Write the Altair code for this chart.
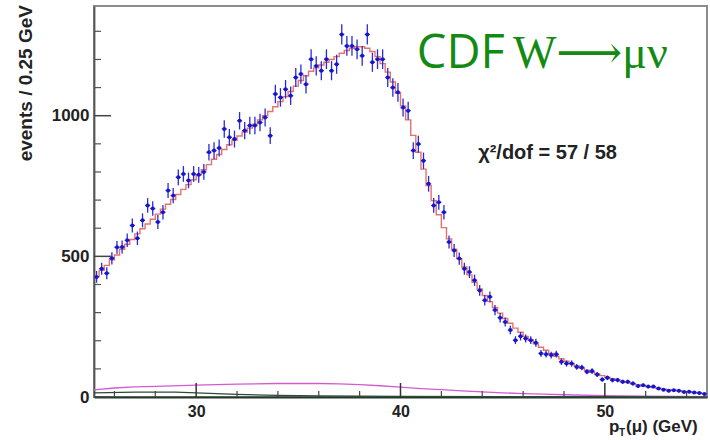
import altair as alt
import pandas as pd

# ---- data ----
bin_width = 0.25
x_start = 25.0

counts = [427, 456, 440, 493, 532, 533, 557, 610, 564, 628,
          681, 670, 622, 657, 734, 716, 781, 793, 770, 793,
          790, 800, 870, 876, 885, 953, 923, 917, 982, 947,
          965, 965, 976, 994, 929, 1077, 1065, 1094, 1071, 1136,
          1148, 1112, 1201, 1177, 1160, 1201, 1160, 1183, 1289, 1248,
          1248, 1236, 1213, 1289, 1190, 1201, 1201, 1136, 1100, 1083,
          1029, 1018, 876, 899, 840, 758, 681, 692, 657, 551,
          521, 492, 456, 444, 415, 379, 344, 356, 309, 282,
          267, 238, 202, 216, 208, 202, 193, 155, 152, 149,
          152, 125, 119, 119, 107, 105, 90, 92, 80, 62,
          68, 60, 60, 54, 54, 48, 39, 42, 37, 37,
          30, 26, 22, 24, 22, 18, 19, 16, 14, 11]

errors = [21, 21, 21, 22, 23, 23, 24, 25, 24, 25,
          26, 26, 25, 26, 27, 27, 28, 28, 28, 28,
          28, 28, 29, 30, 30, 31, 30, 30, 31, 31,
          31, 31, 31, 32, 30, 33, 33, 33, 33, 34,
          34, 33, 35, 34, 34, 35, 34, 34, 36, 35,
          35, 35, 35, 36, 34, 35, 35, 34, 33, 33,
          32, 32, 30, 30, 29, 28, 26, 26, 26, 23,
          23, 22, 21, 21, 20, 19, 19, 19, 18, 17,
          16, 15, 14, 15, 14, 14, 14, 12, 12, 12,
          12, 11, 11, 11, 10, 10, 9, 10, 9, 8,
          8, 8, 8, 7, 7, 7, 6, 6, 6, 6,
          5, 5, 5, 5, 5, 4, 4, 4, 4, 3]

model = [428, 450, 468, 488, 505, 525, 543, 560, 580, 598,
         615, 632, 650, 668, 685, 702, 720, 738, 755, 772,
         790, 808, 826, 845, 862, 880, 897, 913, 928, 942,
         956, 970, 985, 1000, 1015, 1032, 1050, 1068, 1086, 1105,
         1125, 1142, 1158, 1170, 1180, 1190, 1200, 1210, 1222, 1232,
         1240, 1245, 1245, 1240, 1228, 1210, 1185, 1155, 1120, 1080,
         1035, 985, 930, 870, 810, 752, 698, 648, 602, 562,
         525, 492, 462, 434, 408, 384, 361, 339, 318, 298,
         279, 262, 245, 230, 215, 202, 189, 177, 166, 155,
         145, 136, 127, 118, 110, 102, 95, 88, 82, 76,
         70, 65, 60, 55, 51, 47, 43, 40, 37, 34,
         31, 28, 26, 24, 22, 20, 18, 16, 14, 12]

mag_x = [25, 26, 27, 28, 30, 32, 34, 36, 37, 38, 39, 40, 41, 42, 43, 44, 45, 46, 47, 48, 50, 52, 55]
mag_y = [25, 32, 36, 38, 42, 46, 48, 48, 47, 44, 40, 35, 30, 26, 22, 18, 15, 12, 10, 8, 5, 3, 1]

bkg_x = [25, 27, 29, 30, 31, 32, 34, 36, 38, 40, 45, 55]
bkg_y = [15, 17, 17, 15, 12, 9, 6, 4, 3, 2, 1, 0]

x_tick_labels = [30, 40, 50]
x_minor = [26, 28, 32, 34, 36, 38, 42, 44, 46, 48, 52, 54]
y_tick_labels = [0, 500, 1000]
y_minor = [100, 200, 300, 400, 600, 700, 800, 900, 1100, 1200, 1300]

# ---- tables ----
lo = [x_start + bin_width * i for i in range(len(counts))]
df = pd.DataFrame({"lo": lo, "n": counts, "err": errors})
df["hi"] = df["lo"] + bin_width
df["x"] = df["lo"] + bin_width / 2
df["ylo"] = df["n"] - df["err"]
df["yhi"] = df["n"] + df["err"]

model_df = pd.DataFrame({"x": lo + [lo[-1] + bin_width], "m": model + [model[-1]]})
mag_df = pd.DataFrame({"x": mag_x, "y": mag_y})
bkg_df = pd.DataFrame({"x": bkg_x, "y": bkg_y})

W, H = 613, 391
xs = alt.Scale(domain=[25, 55], nice=False, zero=False)
ys = alt.Scale(domain=[0, 1390], nice=False, zero=False)
LBL = "Liberation Sans"

x_axis = alt.Axis(values=x_tick_labels, ticks=False, grid=False, title=None, format="d",
                  labelFont=LBL, labelFontWeight="bold", labelFontSize=16,
                  labelColor="#222", labelPadding=6,
                  domainColor="#22382b", domainWidth=2)
y_axis = alt.Axis(values=y_tick_labels, ticks=False, grid=False, title=None, format="d",
                  labelFont=LBL, labelFontWeight="bold", labelFontSize=17,
                  labelColor="#222", labelPadding=5,
                  domainColor="#555", domainWidth=1.8)


def X(f):
    return alt.X(f, scale=xs, axis=x_axis)


def Y(f):
    return alt.Y(f, scale=ys, axis=y_axis)


mag = alt.Chart(mag_df).mark_line(color="#d45ad4", strokeWidth=1.3).encode(
    x=X("x:Q"), y=Y("y:Q"))
bkg = alt.Chart(bkg_df).mark_line(color="#2c4a38", strokeWidth=1.3).encode(
    x=X("x:Q"), y=Y("y:Q"))

step = alt.Chart(model_df).mark_line(interpolate="step-after", color="#e2625c",
                                     strokeWidth=1.4, opacity=0.9).encode(
    x=X("x:Q"), y=Y("m:Q"))

verr = alt.Chart(df).mark_rule(color="#2a2ad6", strokeWidth=1.3).encode(
    x=X("x:Q"), y=Y("ylo:Q"), y2="yhi:Q")
herr = alt.Chart(df).mark_rule(color="#2a2ad6", strokeWidth=1.3).encode(
    x=X("lo:Q"), x2="hi:Q", y=Y("n:Q"))
pts = alt.Chart(df).mark_circle(size=16, color="#1616cc", opacity=1).encode(
    x=X("x:Q"), y=Y("n:Q"))

ytm = alt.Chart(pd.DataFrame({"v": y_tick_labels})).mark_rule(color="#444", strokeWidth=1.5).encode(
    y=Y("v:Q"), x=alt.value(0), x2=alt.value(17))
ytn = alt.Chart(pd.DataFrame({"v": y_minor})).mark_rule(color="#555", strokeWidth=1.2).encode(
    y=Y("v:Q"), x=alt.value(0), x2=alt.value(7))
xtm = alt.Chart(pd.DataFrame({"v": x_tick_labels})).mark_rule(color="#333", strokeWidth=1.5).encode(
    x=X("v:Q"), y=alt.value(H), y2=alt.value(H - 14))
xtn = alt.Chart(pd.DataFrame({"v": x_minor})).mark_rule(color="#444", strokeWidth=1.2).encode(
    x=X("v:Q"), y=alt.value(H), y2=alt.value(H - 6))

ann = pd.DataFrame({"x": [40.8], "y": [1170]})
cdf = alt.Chart(ann).mark_text(text="CDF", font="Open Sans", fontSize=47, color="#138a13",
                               align="left", baseline="alphabetic").encode(
    x=X("x:Q"), y=Y("y:Q"))
ann2 = pd.DataFrame({"x": [45.5], "y": [1170]})
wmn = alt.Chart(ann2).mark_text(text="W\u27f6\u03bc\u03bd", font="Liberation Serif, DejaVu Serif",
                                fontSize=46, color="#138a13", align="left",
                                baseline="alphabetic").encode(
    x=X("x:Q"), y=Y("y:Q"))
ann3 = pd.DataFrame({"x": [43.8], "y": [847]})
chi = alt.Chart(ann3).mark_text(text="\u03c7\u00b2/dof = 57 / 58", font=LBL, fontSize=20,
                                fontWeight="bold", color="#222", align="left",
                                baseline="alphabetic").encode(
    x=X("x:Q"), y=Y("y:Q"))

ytitle = alt.Chart(ann).mark_text(text="events / 0.25 GeV", font=LBL, fontSize=19,
                                  fontWeight="bold", color="#222", angle=270,
                                  align="right", baseline="alphabetic").encode(
    x=alt.value(-62), y=alt.value(-1))
xt_p = alt.Chart(ann).mark_text(text="p", font=LBL, fontSize=17, fontWeight="bold",
                                color="#222", align="left", baseline="alphabetic").encode(
    x=alt.value(515), y=alt.value(426))
xt_T = alt.Chart(ann).mark_text(text="T", font=LBL, fontSize=10, fontWeight="bold",
                                color="#222", align="left", baseline="alphabetic").encode(
    x=alt.value(525), y=alt.value(430))
xt_r = alt.Chart(ann).mark_text(text="(\u03bc) (GeV)", font=LBL, fontSize=17, fontWeight="bold",
                                color="#222", align="left", baseline="alphabetic").encode(
    x=alt.value(532), y=alt.value(426))

chart = alt.layer(
    mag, bkg, step, verr, herr, pts, ytm, ytn, xtm, xtn, cdf, wmn, chi,
    ytitle, xt_p, xt_T, xt_r
).properties(
    width=W, height=H, autosize="none",
    padding={"left": 94, "top": 6, "right": 3, "bottom": 43},
    background="white",
).configure_view(stroke="#8c8c8c", strokeWidth=2)

chart.save("out.html", embed_options={"renderer": "svg", "actions": False})
